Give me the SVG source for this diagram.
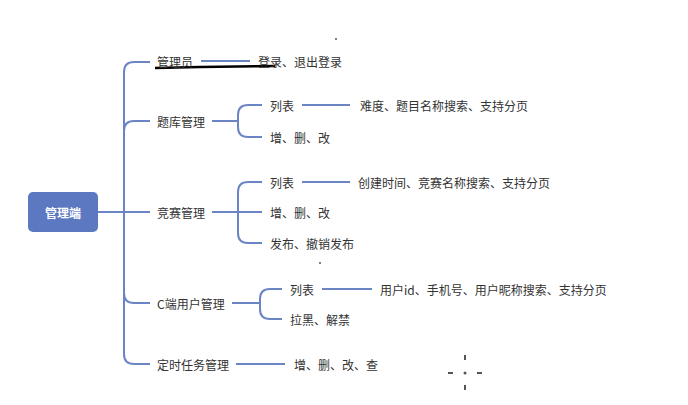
<svg xmlns="http://www.w3.org/2000/svg" width="688" height="405" viewBox="0 0 688 405">
<style>
text{font-family:"Noto Sans CJK SC","Liberation Sans",sans-serif;font-size:12px;fill:#333;dominant-baseline:central}
.c{fill:none;stroke:#6b84c4;stroke-width:2}
</style>
<rect width="688" height="405" fill="#fff"/>
<g id="connectors">
<path class="c" d="M98 212H150"/>
<path class="c" d="M150 62H134Q124 62 124 72V354Q124 364 134 364H150"/>
<path class="c" d="M124 131Q124 121 134 121H150"/>
<path class="c" d="M124 293Q124 303 134 303H150"/>
<path class="c" d="M201 61H250"/>
<path class="c" d="M212 121H238M262 105H248Q238 105 238 115V127Q238 137 248 137H262"/>
<path class="c" d="M302 105H350"/>
<path class="c" d="M212 212H262M262 182H248Q238 182 238 192V233Q238 243 248 243H262"/>
<path class="c" d="M302 182H350"/>
<path class="c" d="M232 303H260M282 289H270Q260 289 260 299V309Q260 319 270 319H282"/>
<path class="c" d="M322 289H372"/>
<path class="c" d="M236 364H285"/>
<path d="M155 68L200 67L275 66" fill="none" stroke="#000" stroke-width="2.5"/>
</g>
<g id="root"><rect x="28" y="192" width="70" height="40" rx="5" fill="#5b78c0"/><text x="63" y="212" text-anchor="middle" style="fill:#fff;font-weight:bold">管理端</text></g>
<g id="n1"><text x="157" y="61">管理员</text><text x="258" y="61">登录、退出登录</text></g>
<g id="n2"><text x="157" y="121">题库管理</text><text x="270" y="105">列表</text><text x="270" y="137">增、删、改</text><text x="360" y="105">难度、题目名称搜索、支持分页</text></g>
<g id="n3"><text x="157" y="212">竞赛管理</text><text x="270" y="182">列表</text><text x="270" y="212">增、删、改</text><text x="270" y="243">发布、撤销发布</text><text x="358" y="182">创建时间、竞赛名称搜索、支持分页</text></g>
<g id="n4"><text x="157" y="303">C端用户管理</text><text x="290" y="289">列表</text><text x="290" y="319">拉黑、解禁</text><text x="380" y="289">用户id、手机号、用户昵称搜索、支持分页</text></g>
<g id="n5"><text x="157" y="364">定时任务管理</text><text x="294" y="364">增、删、改、查</text></g>
<g fill="#555"><circle cx="336" cy="39" r="1"/><circle cx="320" cy="263" r="1"/><circle cx="465" cy="373" r="1.5"/><rect x="464" y="355" width="2" height="5"/><rect x="464" y="385" width="2" height="5"/><rect x="448" y="372" width="5" height="2"/><rect x="477" y="372" width="5" height="2"/></g>
</svg>
